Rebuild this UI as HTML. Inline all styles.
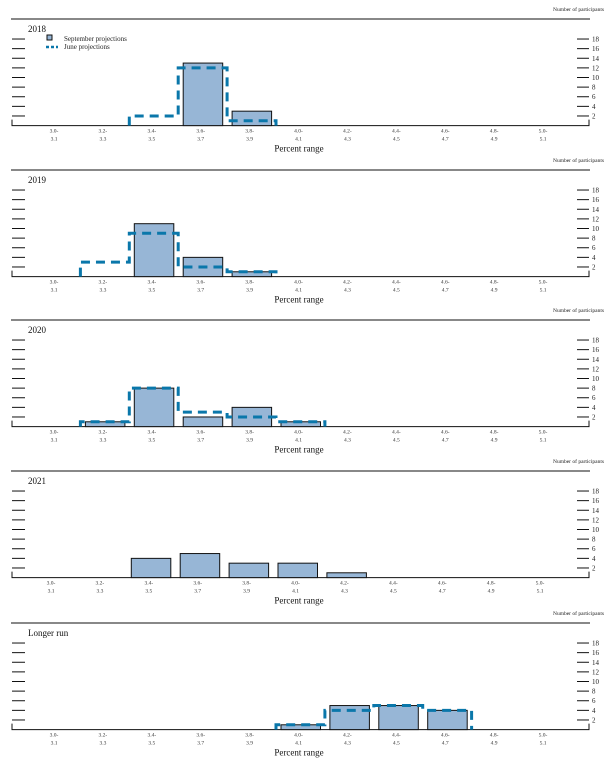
<!DOCTYPE html>
<html><head><meta charset="utf-8">
<style>
body{margin:0;background:#fff;width:611px;height:767px;overflow:hidden}
svg{display:block;font-family:"Liberation Serif",serif}
</style></head>
<body>
<svg id="chart" width="611" height="767" viewBox="0 0 611 767"></svg>
<script>
const categories = ["3.0-3.1","3.2-3.3","3.4-3.5","3.6-3.7","3.8-3.9","4.0-4.1","4.2-4.3","4.4-4.5","4.6-4.7","4.8-4.9","5.0-5.1"];
const panelTitles = ["2018","2019","2020","2021","Longer run"];
const septValues = [
  [0,0,0,13,3,0,0,0,0,0,0],
  [0,0,11,4,1,0,0,0,0,0,0],
  [0,1,8,2,4,1,0,0,0,0,0],
  [0,0,4,5,3,3,1,0,0,0,0],
  [0,0,0,0,0,1,5,5,4,0,0]
];
const juneValues = [
  [0,0,2,12,1,0,0,0,0,0,0],
  [0,3,9,2,1,0,0,0,0,0,0],
  [0,1,8,3,2,1,0,0,0,0,0],
  null,
  [0,0,0,0,0,1,4,5,4,0,0]
];
const yTicks = [2,4,6,8,10,12,14,16,18];

const NS="http://www.w3.org/2000/svg";
const svg=document.getElementById('chart');
function mk(tag,attrs,parent){const e=document.createElementNS(NS,tag);for(const k in attrs)e.setAttribute(k,attrs[k]);(parent||svg).appendChild(e);return e;}
const ruleYs=[19,170,320,471,623];
const xShifts=[0,0,0,-3,0];
const unit=4.81;

panelTitles.forEach((title,p)=>{
  const g=mk('g',{});
  
  
  const ry=ruleYs[p], base=ry+106.6, sh=xShifts[p];
  const xc=i=>54+sh+48.9*i;
  const y=v=>base-v*unit;
  const np=mk('text',{x:604,y:ry-8,'font-size':5.5,'text-anchor':'end',fill:'#222'},g);
  np.textContent='Number of participants';
  
  
  const rule=mk('line',{x1:11,x2:590,y1:ry,y2:ry,stroke:'#111','stroke-width':1},g);
  
  
  const t=mk('text',{x:28,y:ry+13,'font-size':9,fill:'#111'},g);
  t.textContent=title;
  
  
  // axes
  const ax=mk('path',{d:`M12 ${base-6}V${base}H589V${base-6}`,fill:'none',stroke:'#111','stroke-width':1},g);
  
  
  yTicks.forEach(v=>{
    const yy=y(v);
    const lt=mk('line',{x1:12,x2:25,y1:yy,y2:yy,stroke:'#111','stroke-width':1},g);
    
    
    const rt=mk('line',{x1:577,x2:589,y1:yy,y2:yy,stroke:'#111','stroke-width':1},g);
    
    
    const tl=mk('text',{x:592,y:yy+2.5,'font-size':7,fill:'#222'},g);
    tl.textContent=v;
    
    
  });
  categories.forEach((c,i)=>{
    const parts=c.split('-');
    const l1=mk('text',{x:xc(i),y:base+7,'font-size':5.5,'text-anchor':'middle',fill:'#333'},g);
    l1.textContent=parts[0]+'-';
    
    
    const l2=mk('text',{x:xc(i),y:base+15,'font-size':5.5,'text-anchor':'middle',fill:'#333'},g);
    l2.textContent=parts[1];
    
    
  });
  const xt=mk('text',{x:299,y:base+26,'font-size':9,'text-anchor':'middle',fill:'#111'},g);
  xt.textContent='Percent range';
  
  
  // bars
  septValues[p].forEach((v,i)=>{
    if(!v) return;
    const b=mk('rect',{x:xc(i)-19.5+2,y:y(v),width:39.5,height:v*unit,fill:'#97b6d6',stroke:'#111','stroke-width':1},g);
    
    
  });
  // june step line
  const jv=juneValues[p];
  if(jv){
    let d='', prev=0;
    jv.forEach((v,i)=>{
      const x0=xc(i)-24.5+2, x1=xc(i)+24.5-2;
      if(v!==prev){ d+=(d?`L${x0} ${y(prev)}L${x0} ${y(v)}`:`M${x0} ${y(prev)}L${x0} ${y(v)}`); }
      if(v){ d+=(d?'':`M${x0} ${y(v)}`)+`L${x1} ${y(v)}`; }
      prev=v;
    });
    const last=jv.length-1;
    let ln=mk('path',{d:d,fill:'none',stroke:'#0a77aa','stroke-width':3,'stroke-dasharray':'9 6'},g);
    
    
  }
  if(p===0){
    const ls=mk('rect',{x:47,y:ry+16,width:5,height:5,fill:'#97b6d6',stroke:'#111','stroke-width':1},g);
    
    
    const lt1=mk('text',{x:64,y:ry+22,'font-size':7,fill:'#222'},g);
    lt1.textContent='September projections';
    
    
    const lj=mk('line',{x1:46,x2:58,y1:ry+28,y2:ry+28,stroke:'#0a77aa','stroke-width':2.5,'stroke-dasharray':'3 2'},g);
    
    
    const lt2=mk('text',{x:64,y:ry+30,'font-size':7,fill:'#222'},g);
    lt2.textContent='June projections';
    
    
  }
});
</script>
</body></html>
